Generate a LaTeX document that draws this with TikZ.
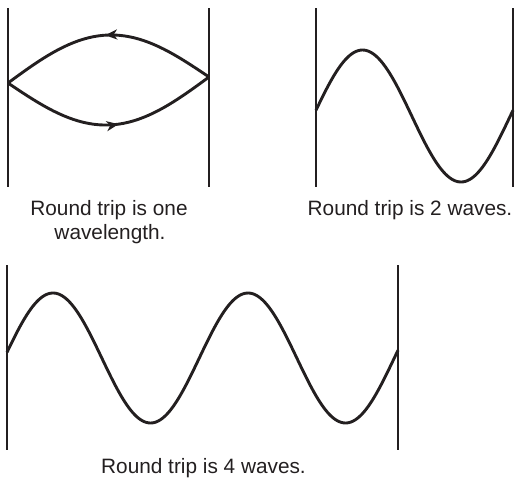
\documentclass[tikz,border=0pt]{standalone}
\usepackage{fontspec}
\setmainfont{Liberation Sans}
\usetikzlibrary{arrows.meta,decorations.markings}
\definecolor{ink}{HTML}{231F20}
\tikzset{
  wall/.style={draw=ink, line width=1.1pt},
  wave/.style={draw=ink, line width=2.9pt, line join=round},
  midarrow/.style={postaction={decorate}, decoration={markings,
      mark=at position #1 with {\arrow{Stealth[length=12pt,width=10pt,inset=3.5pt]}}}},
  caption/.style={text=ink, font=\fontsize{20.8}{25}\selectfont, anchor=base, inner sep=0pt}
}
\begin{document}
\begin{tikzpicture}[x=1pt,y=-1pt]
\useasboundingbox (0,0) rectangle (516,480);
% Panel 1
\coordinate (w1a) at (8,8);   \coordinate (w1b) at (8,187);
\coordinate (w2a) at (209,8); \coordinate (w2b) at (209,187);
\draw[wall] (w1a) -- (w1b);
\draw[wall] (w2a) -- (w2b);
\draw[wave, midarrow=0.51] plot[domain=0:1, samples=41]
  ({209-201*\x}, {83-6*(1-\x)-45*sin(180*\x)});
\draw[wave, midarrow=0.54] plot[domain=0:1, samples=41]
  ({8+201*\x}, {83-6*\x+45*sin(180*\x)});
\node[caption] (c1a) at (109,215) {Round trip is one};
\node[caption] (c1b) at (110,239) {wavelength.};
% Panel 2
\coordinate (w3a) at (316,8);  \coordinate (w3b) at (316,187);
\coordinate (w4a) at (513,8);  \coordinate (w4b) at (513,187);
\draw[wall] (w3a) -- (w3b);
\draw[wall] (w4a) -- (w4b);
\draw[wave] plot[domain=0:197, samples=100]
  ({316+\x}, {116-66*sin(1.82741*\x+5)});
\node[caption] (c2) at (410,215) {Round trip is 2 waves.};
% Panel 3
\coordinate (w5a) at (7,265);   \coordinate (w5b) at (7,450);
\coordinate (w6a) at (398,265); \coordinate (w6b) at (398,450);
\draw[wall] (w5a) -- (w5b);
\draw[wall] (w6a) -- (w6b);
\draw[wave] plot[domain=0:391, samples=200]
  ({7+\x}, {358-65*sin(1.84615*\x+5)});
\node[caption] (c3) at (203.5,473) {Round trip is 4 waves.};
\end{tikzpicture}
\end{document}
